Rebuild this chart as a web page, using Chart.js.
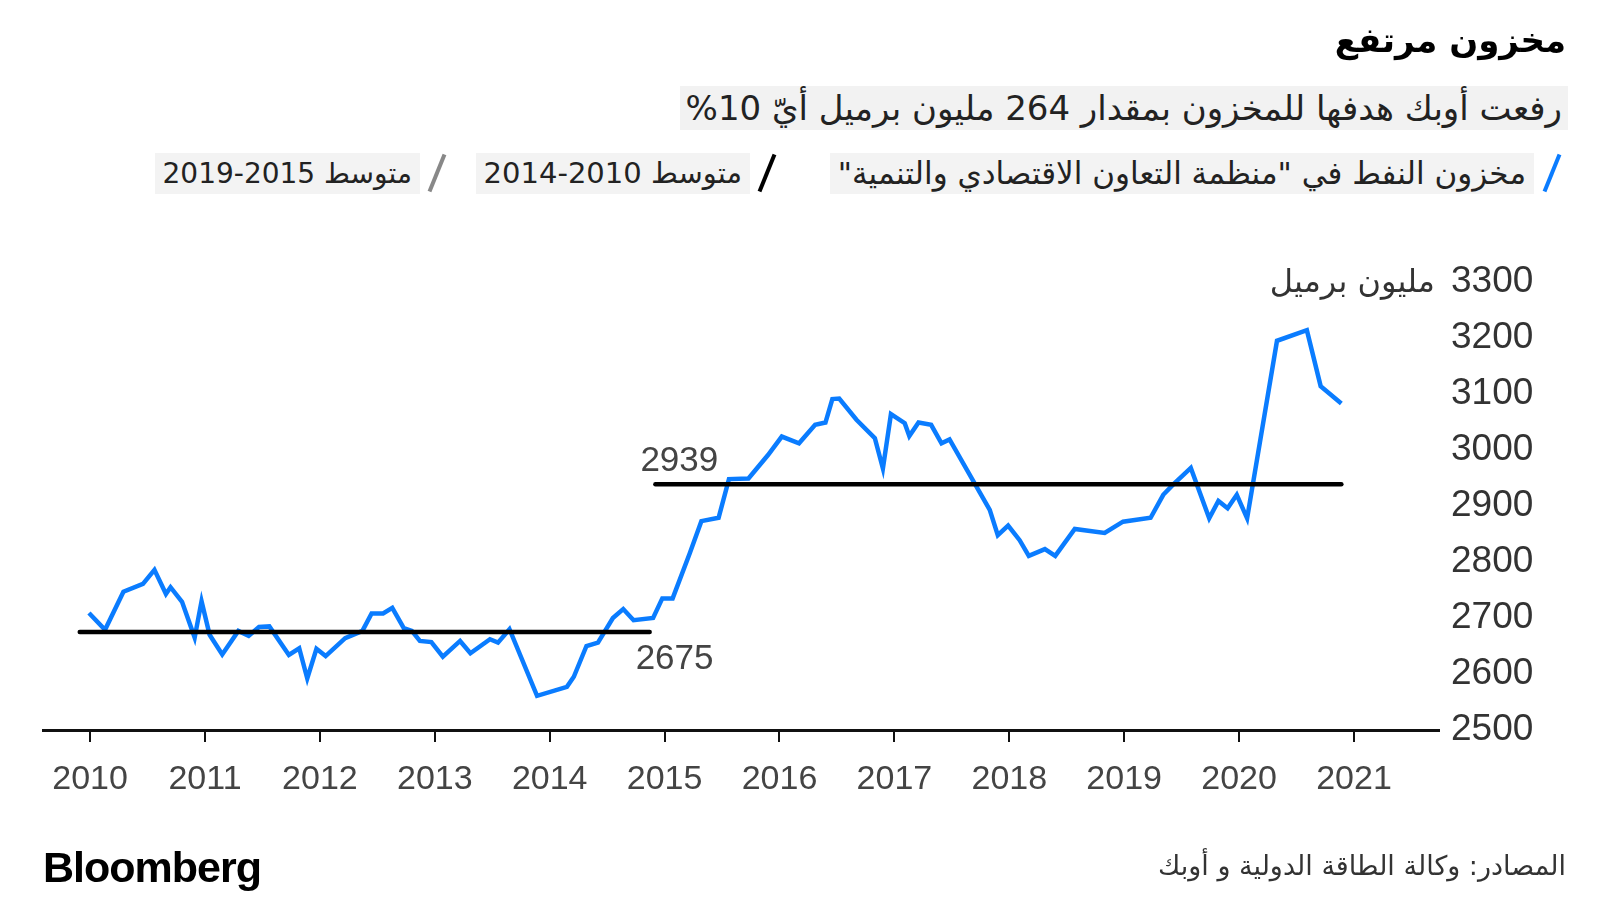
<!DOCTYPE html>
<html lang="ar">
<head>
<meta charset="UTF-8">
<title>مخزون مرتفع</title>
<script src="https://cdn.jsdelivr.net/npm/chart.js@4.4.1/dist/chart.umd.min.js"></script>
<style>
  html, body { margin: 0; padding: 0; background: #fff; }
  #page { position: relative; width: 1600px; height: 900px; overflow: hidden; font-family: "DejaVu Sans", sans-serif; }
  #chart { position: absolute; left: 0; top: 0; }
  .ar { position: absolute; direction: rtl; white-space: nowrap; color: #222; }
  #title { right: 34px; top: 20px; font-size: 34px; font-weight: bold; color: #000; }
  #subtitle { right: 32px; top: 86px; height: 44px; line-height: 44px; padding: 0 6px; font-size: 34px; background: #f2f2f2; }
  .leg { top: 153px; height: 41px; line-height: 41px; padding: 0 8px; font-size: 28px; background: #f3f3f3; }
  .slash { position: absolute; top: 153px; width: 4px; height: 40px; transform: rotate(22deg); }
  #bbg { position: absolute; left: 43px; top: 843px; font-family: "Liberation Sans", Arial, sans-serif; font-weight: bold; font-size: 43px; letter-spacing: -1px; color: #000; }
  #source { right: 34px; top: 850px; font-size: 27px; color: #333; }
</style>
</head>
<body>
<div id="page">
  <canvas id="chart" width="1600" height="900"></canvas>

  <div id="title" class="ar">مخزون مرتفع</div>
  <div id="subtitle" class="ar">رفعت أوبك هدفها للمخزون بمقدار 264 مليون برميل أيّ &#x2066;%10&#x2069;</div>

  <div class="slash" style="left:1550px; background:#0a7cff;"></div>
  <div class="ar leg" style="right:66px; font-size:31px;">مخزون النفط في "منظمة التعاون الاقتصادي والتنمية"</div>
  <div class="slash" style="left:765px; background:#000;"></div>
  <div class="ar leg" style="right:850px; font-size:29px;">متوسط 2010-2014</div>
  <div class="slash" style="left:435px; background:#888;"></div>
  <div class="ar leg" style="right:1180px;">متوسط 2015-2019</div>

  <div id="bbg">Bloomberg</div>
  <div id="source" class="ar">المصادر: وكالة الطاقة الدولية و أوبك</div>
</div>

<script>
// OECD stocks, million barrels (x = decimal year)
const stockYears = [
  2009.99, 2010.13, 2010.29, 2010.46, 2010.56, 2010.66, 2010.70, 2010.80, 2010.91, 2010.97,
  2011.04, 2011.15, 2011.29, 2011.38, 2011.47, 2011.56, 2011.73, 2011.82, 2011.89, 2011.97,
  2012.05, 2012.22, 2012.37, 2012.45, 2012.55, 2012.63, 2012.73, 2012.80, 2012.87, 2012.97,
  2013.07, 2013.22, 2013.31, 2013.48, 2013.55, 2013.65, 2013.89, 2014.15, 2014.21, 2014.32,
  2014.42, 2014.55, 2014.64, 2014.73, 2014.90, 2014.98, 2015.07, 2015.22, 2015.32, 2015.47,
  2015.56, 2015.73, 2015.90, 2016.02, 2016.17, 2016.31, 2016.40, 2016.46, 2016.52, 2016.67,
  2016.83, 2016.90, 2016.97, 2017.09, 2017.13, 2017.21, 2017.32, 2017.41, 2017.48, 2017.83,
  2017.90, 2017.99, 2018.09, 2018.17, 2018.31, 2018.40, 2018.57, 2018.83, 2018.99, 2019.23,
  2019.34, 2019.43, 2019.58, 2019.74, 2019.82, 2019.90, 2019.98, 2020.07, 2020.33, 2020.59,
  2020.71, 2020.89
];
const stockValues = [
  2709, 2679, 2747, 2761, 2786, 2743, 2755, 2729, 2665, 2730,
  2670, 2635, 2677, 2668, 2684, 2685, 2634, 2646, 2592, 2645,
  2632, 2664, 2677, 2708, 2708, 2718, 2682, 2677, 2659, 2657,
  2631, 2659, 2637, 2662, 2656, 2680, 2561, 2577, 2595, 2650,
  2656, 2700, 2716, 2696, 2700, 2735, 2735, 2816, 2873, 2879,
  2948, 2949, 2991, 3024, 3012, 3045, 3049, 3091, 3092, 3054,
  3021, 2967, 3064, 3048, 3025, 3049, 3045, 3012, 3019, 2893,
  2848, 2865, 2839, 2811, 2823, 2811, 2859, 2852, 2872, 2879,
  2920, 2939, 2968, 2878, 2909, 2896, 2920, 2878, 3195, 3214,
  3114, 3083
];

// averages
const avg1Years = [2009.91, 2014.87];
const avg1Value = 2675;
const avg2Years = [2014.92, 2020.89];
const avg2Value = 2939;

const yearTicks = [2010, 2011, 2012, 2013, 2014, 2015, 2016, 2017, 2018, 2019, 2020, 2021];
const valueTicks = [2500, 2600, 2700, 2800, 2900, 3000, 3100, 3200, 3300];
const unitLabel = 'مليون برميل';

const numFont = '"Liberation Sans", Arial, sans-serif';

const annotations = {
  id: 'annotations',
  afterDraw(chart) {
    const { ctx, scales: { x, y } } = chart;
    ctx.save();
    ctx.fillStyle = '#444';
    ctx.font = '35px ' + numFont;
    ctx.textBaseline = 'middle';
    ctx.textAlign = 'left';
    ctx.fillText(String(avg2Value), x.getPixelForValue(avg2Years[0]) - 15, y.getPixelForValue(avg2Value) - 23);
    ctx.fillText(String(avg1Value), x.getPixelForValue(avg1Years[1]) - 14, y.getPixelForValue(avg1Value) + 27);

    // unit next to the top tick
    ctx.fillStyle = '#333';
    ctx.font = '32px "DejaVu Sans", sans-serif';
    ctx.direction = 'rtl';
    ctx.textAlign = 'right';
    ctx.fillText(unitLabel, y.left - 4, y.getPixelForValue(valueTicks[valueTicks.length - 1]) + 2);
    ctx.restore();
  }
};

const stockData = stockYears.map((v, i) => ({ x: v, y: stockValues[i] }));
const avg1Data = avg1Years.map(v => ({ x: v, y: avg1Value }));
const avg2Data = avg2Years.map(v => ({ x: v, y: avg2Value }));

new Chart(document.getElementById('chart'), {
  type: 'line',
  data: {
    datasets: [
      { data: avg1Data, borderColor: '#000', borderWidth: 4.5, pointRadius: 0, borderCapStyle: 'round' },
      { data: avg2Data, borderColor: '#000', borderWidth: 4.5, pointRadius: 0, borderCapStyle: 'round' },
      { data: stockData, borderColor: '#0a7cff', borderWidth: 4.5, pointRadius: 0, tension: 0 }
    ]
  },
  options: {
    responsive: false,
    animation: false,
    layout: { padding: { left: 43, top: 282, right: 51, bottom: 110 } },
    plugins: { legend: { display: false }, tooltip: { enabled: false } },
    scales: {
      x: {
        type: 'linear',
        min: 2009.59,
        max: 2021.74,
        afterBuildTicks: s => { s.ticks = yearTicks.map(v => ({ value: v })); },
        afterFit: s => { s.height = 60; },
        grid: { drawOnChartArea: false, drawTicks: true, tickLength: 12, color: '#111', lineWidth: 2 },
        border: { display: true, color: '#111', width: 3 },
        ticks: {
          autoSkip: false, maxRotation: 0, padding: 17,
          color: '#444', font: { family: numFont, size: 34 },
          callback: v => String(v)
        }
      },
      y: {
        position: 'right',
        min: 2500,
        max: 3300,
        afterBuildTicks: s => { s.ticks = valueTicks.map(v => ({ value: v })); },
        afterFit: s => { s.width = 110; },
        grid: { display: false, drawTicks: false },
        border: { display: false },
        ticks: {
          padding: 12,
          color: '#333', font: { family: numFont, size: 37 },
          callback: v => String(v)
        }
      }
    }
  },
  plugins: [annotations]
});
</script>
</body>
</html>
